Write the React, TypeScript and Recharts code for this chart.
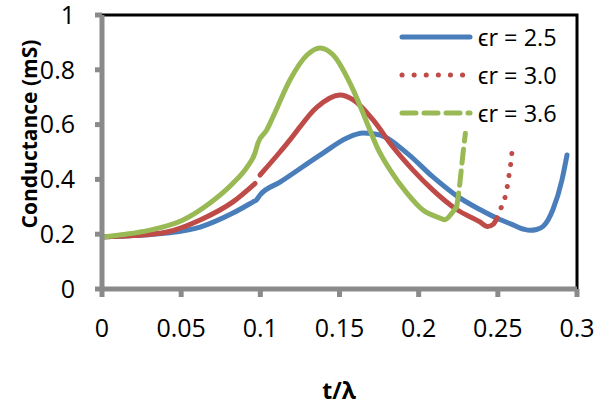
import React from 'react';
import { LineChart, Line, XAxis, YAxis, ReferenceArea } from 'recharts';

// εr = 2.5
const blueX = [0, 0.02, 0.041, 0.062, 0.0827, 0.0954, 0.0975, 0.0998, 0.1124, 0.1396, 0.1547, 0.165, 0.1756, 0.1926, 0.209, 0.224, 0.2387, 0.2495, 0.2596, 0.2665, 0.2703, 0.2745, 0.2785, 0.2817, 0.2848, 0.2905, 0.2937];
const blueY = [0.19, 0.195, 0.204, 0.226, 0.277, 0.318, 0.325, 0.343, 0.39, 0.496, 0.551, 0.569, 0.562, 0.496, 0.409, 0.34, 0.29, 0.258, 0.234, 0.218, 0.214, 0.217, 0.228, 0.252, 0.29, 0.398, 0.489];

// εr = 3.0
const redAX = [0, 0.02, 0.041, 0.062, 0.0827, 0.0966];
const redAY = [0.19, 0.195, 0.208, 0.252, 0.318, 0.385];
const redBX = [0.0998, 0.1124, 0.1187, 0.1358, 0.1503, 0.1587, 0.1712, 0.1838, 0.1964, 0.209, 0.224, 0.2387, 0.2435, 0.247, 0.2495];
const redBY = [0.416, 0.5, 0.544, 0.664, 0.708, 0.69, 0.617, 0.518, 0.434, 0.361, 0.29, 0.245, 0.228, 0.236, 0.259];
const redTailX = [0.2495, 0.2514, 0.2533, 0.2552, 0.2564, 0.2577, 0.2583, 0.259];
const redTailY = [0.259, 0.288, 0.313, 0.35, 0.39, 0.44, 0.463, 0.504];

// εr = 3.6
const greenX = [0, 0.015, 0.0303, 0.0512, 0.068, 0.0827, 0.0916, 0.0966, 0.0985, 0.104, 0.108, 0.1187, 0.1295, 0.1377, 0.146, 0.1587, 0.1674, 0.1737, 0.182, 0.1926, 0.2027, 0.2135, 0.2165, 0.221, 0.224];
const greenY = [0.19, 0.2, 0.215, 0.252, 0.313, 0.386, 0.445, 0.496, 0.533, 0.58, 0.628, 0.763, 0.854, 0.88, 0.854, 0.726, 0.606, 0.518, 0.434, 0.35, 0.288, 0.259, 0.253, 0.277, 0.3];
const greenTailX = [0.224, 0.2255, 0.227, 0.2283, 0.2295];
const greenTailY = [0.3, 0.36, 0.44, 0.51, 0.568];

const xTicks = [0, 0.05, 0.1, 0.15, 0.2, 0.25, 0.3];
const yTicks = [0, 0.2, 0.4, 0.6, 0.8, 1];
const seriesNames = ['ϵr = 2.5', 'ϵr = 3.0', 'ϵr = 3.6'];

const BLUE = '#4A7EBB';
const RED = '#BE4B48';
const GREEN = '#98B954';
const FONT = '"Open Sans", sans-serif';

const zip = (xs: number[], ys: number[]) => xs.map((x, i) => ({ x, y: ys[i] }));

const blueData = zip(blueX, blueY);
const redAData = zip(redAX, redAY);
const redBData = zip(redBX, redBY);
const redTailData = zip(redTailX, redTailY);
const greenData = zip(greenX, greenY);
const greenTailData = zip(greenTailX, greenTailY);

const LegendBox = () => {
  const rows = [
    { color: BLUE, dash: undefined as string | undefined },
    { color: RED, dash: '0.1 12' },
    { color: GREEN, dash: '14 8' },
  ];
  return (
    <svg width={604} height={140} style={{ position: 'absolute', left: 0, top: 0, pointerEvents: 'none' }}>
      {rows.map((r, i) => {
        const y = 37 + i * 38;
        return (
          <g key={i}>
            <line x1={402} x2={470} y1={y} y2={y} stroke={r.color} strokeWidth={5}
              strokeLinecap="round" strokeDasharray={r.dash} />
            <text x={478} y={y} dominantBaseline="central" fontFamily={FONT} fontSize={23.5} fill="#000">
              {seriesNames[i]}
            </text>
          </g>
        );
      })}
    </svg>
  );
};

const YLabel = (props: any) => (
  <text x={29} y={134} transform="rotate(-90 29 134)" textAnchor="middle" dominantBaseline="central"
    fontFamily={FONT} fontWeight="bold" fontSize={21} fill="#000">
    Conductance (mS)
  </text>
);

const XLabel = (props: any) => (
  <text x={339} y={390} textAnchor="middle" dominantBaseline="central"
    fontFamily={FONT} fontWeight="bold" fontSize={23} fill="#000">
    t/λ
  </text>
);

const lineProps = {
  type: 'monotone' as const,
  dataKey: 'y',
  dot: false,
  isAnimationActive: false,
  strokeWidth: 5,
  strokeLinecap: 'round' as const,
  strokeLinejoin: 'round' as const,
  legendType: 'none' as const,
};

export default function App() {
  return (
    <div style={{ position: 'absolute', left: 0, top: 0, width: 604, height: 406, background: '#fff' }}>
      <LineChart width={604} height={406} margin={{ top: 15, right: 27, bottom: 0, left: 0 }}>
        <XAxis dataKey="x" type="number" domain={[0, 0.3]} ticks={xTicks} allowDataOverflow
          height={117} tickSize={8} tickMargin={22}
          stroke="#8a8a8a" strokeWidth={5}
          tick={{ fill: '#000', fontSize: 25, fontFamily: FONT }}
          label={<XLabel />} />
        <YAxis type="number" domain={[0, 1]} ticks={yTicks} allowDataOverflow
          width={102} tickSize={7} tickMargin={20}
          stroke="#8a8a8a" strokeWidth={5}
          tick={{ fill: '#000', fontSize: 25, fontFamily: FONT }}
          label={<YLabel />} />
        <ReferenceArea x1={0} x2={0.3} y1={0} y2={1} fill="none" stroke="#000" strokeWidth={3} ifOverflow="visible" />
        <Line data={blueData} stroke={BLUE} {...lineProps} />
        <Line data={redAData} stroke={RED} {...lineProps} />
        <Line data={redBData} stroke={RED} {...lineProps} />
        <Line data={redTailData} stroke={RED} {...lineProps} strokeDasharray="0.1 11" />
        <Line data={greenData} stroke={GREEN} {...lineProps} />
        <Line data={greenTailData} stroke={GREEN} {...lineProps} strokeDasharray="14 8" />
      </LineChart>
      <LegendBox />
    </div>
  );
}
